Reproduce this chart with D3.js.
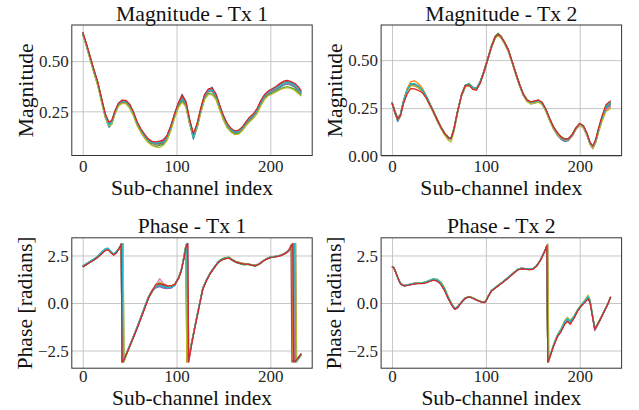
<!DOCTYPE html>
<html><head><meta charset="utf-8">
<script src="https://cdn.jsdelivr.net/npm/d3@7"></script>
<style>body{margin:0;background:#fff}svg{display:block}</style>
</head><body>
<svg id="c" width="639" height="410"></svg>
<script>
// ---- series colours (matplotlib tab10), same order as the value arrays below
const SERIES_COLORS = ["#1f77b4","#ff7f0e","#2ca02c","#d62728","#9467bd","#8c564b","#e377c2","#7f7f7f","#bcbd22","#17becf"];
const DRAW_ORDER = [0,1,2,4,5,6,7,8,9,3];
const X_TICKS = [0,100,200];
const MAG1_TICKS = [0.25,0.50];
const MAG2_TICKS = [0.00,0.25,0.50];
const PHASE_TICKS = [-2.5,0.0,2.5];
const TITLES = ["Magnitude - Tx 1","Magnitude - Tx 2","Phase - Tx 1","Phase - Tx 2"];
const YLABELS = ["Magnitude","Magnitude","Phase [radians]","Phase [radians]"];
const XLABEL = "Sub-channel index";

// ---- Magnitude Tx 1
const MAG1_X = [0,4,8,12,16,20,24,28,31,34,38,42,46,50,54,58,62,66,70,74,78,82,86,90,94,98,102,106,110,114,118,122,126,130,134,138,142,146,150,154,158,162,166,170,174,178,182,186,190,194,198,202,206,210,214,218,222,226,230,233];
const MAG1_Y = [
[.638,.577,.510,.447,.383,.306,.222,.170,.188,.236,.280,.298,.300,.272,.236,.186,.150,.122,.100,.090,.085,.094,.090,.118,.165,.226,.280,.305,.282,.190,.112,.172,.256,.322,.356,.370,.322,.264,.214,.176,.152,.140,.142,.160,.186,.207,.225,.250,.290,.320,.338,.348,.358,.368,.380,.386,.382,.370,.352,.335],
[.642,.583,.518,.452,.393,.312,.234,.190,.199,.243,.286,.303,.296,.281,.243,.193,.160,.131,.110,.092,.082,.098,.110,.128,.175,.236,.288,.321,.294,.205,.133,.184,.263,.327,.355,.356,.329,.272,.224,.184,.160,.149,.152,.167,.193,.215,.232,.258,.298,.328,.345,.356,.366,.378,.388,.394,.390,.382,.362,.345],
[.633,.572,.508,.442,.380,.300,.222,.180,.190,.234,.278,.294,.290,.270,.232,.182,.148,.118,.096,.082,.075,.080,.086,.110,.158,.220,.272,.300,.276,.188,.120,.170,.248,.312,.338,.336,.312,.260,.210,.170,.150,.136,.138,.154,.180,.202,.218,.242,.282,.314,.332,.340,.350,.360,.368,.372,.368,.360,.342,.328],
[.645,.587,.522,.458,.398,.318,.238,.195,.205,.248,.290,.306,.304,.286,.248,.198,.162,.135,.112,.100,.098,.102,.105,.132,.180,.240,.293,.326,.300,.210,.138,.190,.270,.335,.362,.365,.338,.282,.230,.190,.166,.153,.156,.172,.198,.222,.238,.265,.305,.335,.352,.362,.374,.388,.400,.404,.398,.390,.372,.352],
[.640,.581,.514,.450,.391,.309,.231,.188,.197,.240,.283,.299,.298,.277,.238,.189,.156,.126,.106,.091,.086,.094,.100,.120,.172,.230,.286,.316,.288,.198,.126,.178,.258,.326,.350,.350,.326,.268,.222,.180,.156,.146,.150,.162,.190,.210,.230,.254,.294,.326,.340,.352,.360,.374,.384,.388,.384,.378,.356,.338],
[.643,.584,.519,.455,.395,.315,.236,.193,.203,.245,.288,.305,.302,.284,.246,.195,.160,.134,.110,.098,.092,.088,.100,.128,.176,.238,.292,.335,.298,.206,.136,.188,.266,.332,.358,.360,.334,.278,.226,.186,.162,.150,.152,.168,.195,.218,.234,.262,.302,.332,.350,.360,.370,.384,.395,.398,.393,.384,.365,.348],
[.641,.582,.516,.451,.392,.311,.232,.192,.200,.242,.284,.301,.299,.280,.242,.191,.158,.130,.112,.096,.094,.100,.112,.126,.172,.234,.286,.320,.291,.202,.130,.182,.262,.326,.353,.354,.327,.272,.222,.182,.160,.148,.150,.165,.192,.214,.230,.256,.296,.326,.344,.354,.364,.376,.386,.391,.388,.380,.360,.342],
[.637,.578,.512,.447,.387,.307,.228,.184,.193,.238,.281,.298,.295,.276,.237,.188,.152,.126,.103,.090,.090,.086,.092,.118,.168,.228,.282,.314,.286,.196,.126,.178,.256,.322,.348,.348,.322,.266,.216,.178,.154,.142,.146,.160,.188,.208,.226,.252,.290,.322,.338,.348,.358,.370,.380,.386,.382,.372,.354,.336],
[.636,.574,.505,.440,.378,.298,.218,.176,.186,.230,.274,.290,.288,.266,.228,.178,.144,.116,.094,.080,.072,.070,.080,.106,.154,.216,.268,.296,.272,.184,.124,.168,.246,.310,.334,.332,.310,.256,.206,.168,.146,.134,.136,.152,.178,.198,.216,.240,.278,.310,.328,.336,.346,.356,.364,.368,.364,.354,.338,.325],
[.642,.583,.518,.453,.394,.313,.234,.182,.198,.244,.287,.303,.300,.282,.244,.192,.158,.130,.108,.096,.092,.096,.098,.126,.174,.236,.290,.312,.294,.200,.122,.184,.262,.330,.356,.358,.330,.276,.226,.184,.160,.148,.150,.166,.194,.216,.232,.258,.298,.330,.346,.356,.366,.378,.389,.393,.390,.382,.362,.344]
];

// ---- Magnitude Tx 2
const MAG2_X = [0,3,6,9,12,16,20,24,28,32,36,40,44,48,52,56,60,63,66,70,74,78,82,86,90,94,98,102,106,110,113,116,120,124,128,132,136,140,144,148,152,156,160,164,168,172,176,180,184,188,192,196,200,204,208,211,214,217,220,224,228,233];
const MAG2_Y = [
[.275,.226,.180,.208,.276,.338,.378,.372,.362,.340,.310,.268,.228,.186,.146,.112,.090,.088,.134,.230,.312,.360,.368,.352,.346,.382,.436,.500,.566,.616,.628,.618,.586,.546,.486,.424,.365,.315,.284,.272,.276,.282,.270,.234,.186,.142,.110,.088,.076,.080,.104,.140,.164,.150,.106,.062,.040,.072,.130,.196,.252,.274],
[.282,.236,.198,.220,.286,.350,.388,.392,.378,.356,.320,.278,.236,.194,.154,.122,.098,.096,.146,.240,.320,.370,.378,.360,.354,.390,.446,.510,.576,.626,.636,.626,.594,.556,.495,.434,.375,.324,.294,.282,.286,.292,.278,.244,.196,.154,.124,.102,.090,.092,.114,.148,.170,.156,.114,.070,.050,.074,.128,.188,.236,.255],
[.280,.234,.196,.218,.284,.344,.376,.374,.364,.346,.316,.276,.234,.194,.154,.120,.098,.094,.144,.238,.318,.368,.376,.358,.352,.388,.444,.508,.574,.624,.640,.626,.592,.552,.492,.430,.372,.322,.292,.280,.284,.290,.276,.242,.194,.152,.122,.100,.088,.090,.112,.148,.170,.158,.114,.070,.050,.082,.140,.206,.260,.280],
[.276,.230,.192,.210,.270,.322,.352,.350,.342,.332,.306,.270,.232,.190,.150,.118,.096,.092,.140,.236,.316,.366,.370,.348,.344,.380,.438,.504,.570,.622,.634,.624,.592,.552,.492,.430,.372,.322,.292,.282,.288,.292,.280,.244,.196,.152,.122,.100,.088,.090,.112,.146,.170,.158,.116,.072,.052,.086,.146,.212,.268,.288],
[.278,.232,.194,.214,.280,.340,.370,.368,.360,.342,.312,.272,.232,.190,.150,.118,.094,.092,.138,.234,.314,.364,.372,.356,.350,.386,.440,.506,.570,.620,.632,.622,.590,.550,.490,.428,.370,.320,.290,.278,.282,.288,.274,.238,.190,.148,.118,.096,.084,.086,.106,.140,.164,.150,.108,.064,.042,.074,.132,.196,.246,.268],
[.280,.234,.198,.216,.282,.342,.374,.372,.362,.344,.314,.274,.234,.192,.152,.120,.096,.094,.142,.236,.318,.366,.374,.356,.352,.386,.442,.506,.572,.622,.634,.624,.592,.552,.492,.430,.372,.322,.292,.280,.284,.290,.276,.242,.194,.152,.122,.100,.088,.090,.112,.146,.168,.156,.112,.068,.048,.078,.136,.202,.252,.276],
[.274,.228,.190,.212,.276,.336,.368,.366,.356,.338,.308,.268,.228,.186,.146,.114,.092,.088,.136,.232,.312,.362,.370,.352,.346,.382,.436,.502,.566,.616,.628,.618,.588,.546,.486,.424,.366,.316,.286,.274,.278,.284,.272,.236,.188,.146,.116,.094,.082,.084,.104,.138,.160,.146,.104,.060,.038,.070,.126,.190,.240,.262],
[.277,.231,.194,.214,.280,.340,.372,.370,.358,.340,.310,.270,.230,.188,.148,.116,.094,.090,.138,.234,.314,.364,.372,.354,.348,.384,.438,.504,.568,.618,.630,.620,.588,.548,.488,.426,.368,.318,.288,.276,.280,.286,.272,.238,.190,.148,.118,.096,.084,.086,.108,.144,.166,.152,.110,.066,.046,.076,.132,.196,.246,.268],
[.272,.226,.188,.210,.276,.334,.366,.366,.356,.336,.306,.266,.226,.184,.144,.110,.082,.074,.126,.228,.310,.360,.368,.350,.344,.380,.434,.500,.564,.614,.626,.616,.584,.544,.484,.422,.364,.314,.284,.272,.276,.282,.268,.232,.184,.142,.114,.094,.084,.086,.106,.140,.162,.148,.106,.062,.040,.068,.122,.184,.232,.248],
[.279,.226,.192,.216,.282,.344,.378,.378,.366,.346,.316,.276,.236,.192,.152,.120,.097,.094,.142,.238,.318,.368,.376,.358,.352,.388,.442,.508,.572,.622,.634,.624,.592,.552,.492,.430,.372,.322,.292,.280,.284,.290,.276,.242,.194,.152,.122,.100,.086,.088,.110,.146,.168,.156,.114,.070,.050,.080,.138,.204,.256,.278]
];

// ---- Phase Tx 1
const PH1_X = [0,4,8,12,16,20,24,27,30,33,36,38,40,41,42,43,44,46,50,54,58,62,66,70,74,78,82,86,90,94,98,102,105,108,110,111,112,113,114,116,120,124,128,132,136,140,144,148,152,156,160,164,168,172,176,180,184,188,192,196,200,204,208,212,216,219,221,222,223,224,225,226,227,228,230,233];
const PH1_Y = [
[1.93,2.06,2.18,2.30,2.46,2.66,2.84,2.87,2.70,2.57,2.70,2.84,2.98,3.10,-3.10,-3.06,-2.98,-2.74,-2.26,-1.77,-1.28,-0.74,-0.22,0.30,0.66,0.86,0.90,0.84,0.80,0.78,0.92,1.30,1.72,2.42,2.98,3.12,-3.08,-2.90,-2.68,-2.15,-1.12,-0.18,0.78,1.22,1.58,1.88,2.14,2.30,2.36,2.40,2.24,2.14,2.08,2.02,2.04,1.98,1.95,2.06,2.21,2.34,2.41,2.44,2.47,2.53,2.63,2.73,2.84,2.92,3.00,3.07,3.12,-3.10,-3.06,-3.02,-2.90,-2.70],
[1.92,2.04,2.16,2.28,2.43,2.62,2.80,2.84,2.68,2.54,2.68,2.80,2.92,3.02,3.12,-3.08,-3.00,-2.76,-2.28,-1.80,-1.32,-0.80,-0.26,0.26,0.60,0.92,1.02,0.90,0.86,0.88,0.96,1.30,1.70,2.50,3.05,-3.10,-3.02,-2.86,-2.62,-2.10,-1.14,-0.20,0.74,1.20,1.56,1.85,2.12,2.28,2.35,2.40,2.26,2.16,2.12,2.06,2.06,2.00,1.96,2.04,2.20,2.32,2.40,2.43,2.46,2.52,2.62,2.74,2.90,2.98,3.10,-3.10,-3.06,-3.03,-2.99,-2.95,-2.86,-2.66],
[1.90,2.02,2.14,2.26,2.41,2.59,2.77,2.82,2.66,2.53,2.66,2.79,2.88,2.96,3.05,3.12,-3.10,-2.80,-2.30,-1.83,-1.33,-0.82,-0.28,0.25,0.58,0.95,1.08,0.95,0.90,0.86,0.94,1.28,1.68,2.42,2.98,3.12,-3.08,-2.90,-2.70,-2.15,-1.18,-0.22,0.72,1.18,1.55,1.83,2.10,2.26,2.33,2.36,2.22,2.12,2.06,2.00,2.03,1.98,1.94,2.03,2.18,2.30,2.38,2.42,2.45,2.50,2.60,2.70,2.82,2.90,2.97,3.04,3.08,3.12,-3.10,-3.05,-2.92,-2.72],
[1.90,2.02,2.14,2.26,2.40,2.58,2.76,2.80,2.64,2.52,2.64,2.80,2.98,3.10,-3.10,-3.06,-2.98,-2.76,-2.30,-1.82,-1.34,-0.82,-0.30,0.24,0.64,0.98,1.00,0.98,0.90,0.90,0.98,1.28,1.68,2.35,2.90,3.05,3.13,-3.10,-2.80,-2.22,-1.20,-0.24,0.72,1.18,1.55,1.84,2.10,2.26,2.33,2.36,2.24,2.14,2.09,2.04,2.04,1.99,1.97,2.04,2.18,2.31,2.39,2.42,2.45,2.51,2.61,2.71,2.84,2.95,3.04,3.12,-3.10,-3.06,-3.02,-2.98,-2.88,-2.68],
[1.94,2.06,2.18,2.30,2.45,2.64,2.82,2.86,2.70,2.57,2.70,2.83,2.92,3.02,3.12,-3.08,-3.00,-2.72,-2.24,-1.76,-1.26,-0.74,-0.20,0.32,0.64,0.80,0.86,0.78,0.76,0.80,0.94,1.33,1.74,2.35,2.90,3.05,3.13,-3.10,-2.80,-2.20,-1.12,-0.16,0.78,1.22,1.60,1.87,2.14,2.30,2.37,2.38,2.26,2.16,2.10,2.06,2.05,2.01,1.98,2.06,2.21,2.33,2.41,2.44,2.47,2.53,2.63,2.72,2.84,2.88,2.95,3.00,3.05,3.09,3.13,-3.10,-2.95,-2.72],
[1.92,2.05,2.17,2.29,2.44,2.63,2.81,2.85,2.69,2.56,2.69,2.83,2.98,3.10,-3.10,-3.06,-2.98,-2.74,-2.26,-1.78,-1.29,-0.77,-0.24,0.28,0.62,0.90,0.96,0.92,0.84,0.84,0.95,1.31,1.71,2.50,3.05,-3.10,-3.02,-2.86,-2.62,-2.10,-1.14,-0.19,0.76,1.21,1.57,1.86,2.13,2.29,2.36,2.39,2.25,2.15,2.11,2.05,2.05,2.00,1.97,2.05,2.20,2.32,2.40,2.43,2.46,2.52,2.64,2.76,2.92,3.06,-3.10,-3.07,-3.04,-3.00,-2.97,-2.93,-2.85,-2.66],
[1.94,2.07,2.19,2.31,2.46,2.65,2.83,2.86,2.71,2.58,2.71,2.84,2.92,3.02,3.12,-3.08,-3.00,-2.72,-2.24,-1.75,-1.25,-0.72,-0.20,0.33,0.68,0.94,1.28,1.02,0.92,0.86,0.98,1.33,1.74,2.42,2.98,3.12,-3.08,-2.90,-2.68,-2.14,-1.10,-0.16,0.80,1.24,1.60,1.88,2.15,2.31,2.38,2.41,2.27,2.17,2.11,2.07,2.06,2.02,1.99,2.07,2.22,2.34,2.42,2.45,2.48,2.54,2.64,2.74,2.86,2.93,3.01,3.07,3.12,-3.10,-3.06,-3.02,-2.90,-2.70],
[1.91,2.03,2.15,2.27,2.42,2.61,2.79,2.83,2.67,2.54,2.67,2.81,2.98,3.10,-3.10,-3.06,-2.98,-2.76,-2.29,-1.81,-1.31,-0.79,-0.26,0.27,0.61,0.84,0.94,0.88,0.82,0.83,0.94,1.29,1.69,2.42,2.98,3.12,-3.08,-2.90,-2.70,-2.16,-1.16,-0.21,0.74,1.19,1.56,1.84,2.11,2.27,2.34,2.37,2.24,2.14,2.09,2.04,2.04,1.99,1.96,2.04,2.19,2.31,2.39,2.42,2.45,2.51,2.61,2.71,2.84,2.95,3.04,3.12,-3.10,-3.06,-3.02,-2.98,-2.88,-2.68],
[1.93,2.05,2.17,2.29,2.44,2.64,2.82,2.85,2.69,2.56,2.69,2.80,2.88,2.96,3.05,3.12,-3.10,-2.78,-2.27,-1.79,-1.29,-0.76,-0.23,0.30,0.66,0.92,1.10,0.98,0.92,0.90,0.97,1.32,1.72,2.50,3.05,-3.10,-3.02,-2.86,-2.62,-2.10,-1.13,-0.18,0.77,1.21,1.58,1.87,2.14,2.32,2.40,2.42,2.28,2.17,2.12,2.08,2.07,2.02,1.99,2.06,2.21,2.33,2.41,2.44,2.47,2.53,2.62,2.72,2.82,2.88,2.95,3.00,3.05,3.09,3.13,-3.10,-2.95,-2.74],
[1.95,2.08,2.20,2.32,2.47,2.66,2.86,2.89,2.72,2.58,2.71,2.85,2.95,3.05,3.12,-3.08,-3.00,-2.72,-2.25,-1.77,-1.27,-0.75,-0.21,0.31,0.64,0.88,0.92,0.86,0.82,0.82,0.93,1.31,1.72,2.42,2.98,3.12,-3.08,-2.90,-2.68,-2.14,-1.12,-0.17,0.78,1.22,1.59,1.87,2.14,2.30,2.37,2.39,2.25,2.15,2.10,2.05,2.05,2.00,1.97,2.05,2.20,2.33,2.41,2.44,2.47,2.53,2.63,2.72,2.82,2.90,2.97,3.04,3.08,3.12,-3.10,-3.05,-2.92,-2.72]
];

// ---- Phase Tx 2
const PH2_X = [0,2,4,6,8,10,13,16,20,24,28,32,36,40,44,48,52,56,60,64,67,70,74,78,82,86,90,94,98,100,103,106,110,114,118,122,126,130,134,138,142,146,150,154,158,162,164,165,166,167,168,172,176,180,184,187,190,194,198,202,206,209,211,213,216,218,222,226,230,233];
const PH2_Y = [
[1.92,1.84,1.61,1.35,1.10,0.96,0.90,0.93,0.97,1.01,1.05,1.03,1.08,1.15,1.24,1.18,1.00,0.68,0.24,-0.14,-0.34,-0.24,0.04,0.24,0.33,0.27,0.16,0.08,0.03,0.09,0.39,0.64,0.79,0.94,1.09,1.25,1.42,1.60,1.76,1.82,1.80,1.78,1.79,1.95,2.25,2.65,2.88,3.02,-3.10,-2.98,-2.84,-2.26,-1.76,-1.46,-1.06,-0.92,-1.06,-0.76,-0.38,-0.12,0.10,0.28,0.08,-0.50,-1.36,-1.22,-0.85,-0.45,-0.05,0.32],
[1.93,1.86,1.63,1.37,1.13,0.99,0.93,0.96,1.00,1.04,1.05,1.06,1.10,1.18,1.26,1.22,1.06,0.74,0.28,-0.10,-0.30,-0.20,0.06,0.26,0.34,0.27,0.17,0.09,0.05,0.11,0.41,0.66,0.81,0.96,1.11,1.27,1.43,1.61,1.77,1.83,1.81,1.76,1.77,1.94,2.24,2.64,2.88,3.03,-3.10,-2.97,-2.82,-2.24,-1.73,-1.42,-1.00,-0.84,-0.98,-0.72,-0.36,-0.10,0.14,0.32,0.12,-0.46,-1.33,-1.20,-0.84,-0.44,-0.04,0.33],
[1.92,1.85,1.62,1.36,1.12,0.98,0.92,0.94,0.98,1.03,1.04,1.05,1.09,1.16,1.23,1.20,1.04,0.72,0.26,-0.11,-0.31,-0.21,0.05,0.25,0.34,0.26,0.16,0.08,0.04,0.10,0.40,0.65,0.80,0.95,1.10,1.26,1.42,1.60,1.76,1.82,1.80,1.78,1.79,1.95,2.25,2.65,2.89,3.03,-3.10,-2.97,-2.83,-2.25,-1.74,-1.44,-1.02,-0.88,-1.02,-0.74,-0.37,-0.11,0.12,0.30,0.10,-0.48,-1.34,-1.21,-0.85,-0.45,-0.05,0.32],
[1.91,1.84,1.60,1.34,1.10,0.96,0.90,0.92,0.96,1.00,1.02,1.02,1.06,1.13,1.20,1.15,0.98,0.65,0.22,-0.14,-0.34,-0.24,0.03,0.24,0.32,0.25,0.15,0.07,0.02,0.08,0.38,0.63,0.78,0.93,1.08,1.24,1.40,1.58,1.74,1.80,1.78,1.76,1.77,1.93,2.23,2.63,2.87,3.02,-3.10,-2.99,-2.86,-2.30,-1.80,-1.52,-1.12,-0.98,-1.12,-0.80,-0.40,-0.14,0.06,0.22,0.02,-0.54,-1.38,-1.24,-0.86,-0.46,-0.06,0.31],
[1.92,1.85,1.61,1.35,1.11,0.97,0.91,0.93,0.97,1.01,1.03,1.03,1.07,1.14,1.21,1.16,0.99,0.67,0.23,-0.13,-0.33,-0.23,0.04,0.24,0.33,0.26,0.16,0.08,0.03,0.09,0.39,0.64,0.79,0.94,1.09,1.25,1.41,1.59,1.75,1.81,1.79,1.77,1.78,1.94,2.24,2.62,2.84,2.98,3.10,-3.10,-2.92,-2.28,-1.78,-1.48,-1.08,-0.94,-1.08,-0.78,-0.39,-0.13,0.08,0.25,0.04,-0.54,-1.46,-1.28,-0.88,-0.47,-0.06,0.31],
[1.92,1.85,1.61,1.35,1.11,0.97,0.91,0.94,0.98,1.02,1.04,1.04,1.08,1.15,1.22,1.17,1.01,0.69,0.24,-0.12,-0.32,-0.22,0.05,0.25,0.33,0.26,0.16,0.08,0.04,0.10,0.40,0.65,0.80,0.95,1.10,1.26,1.42,1.60,1.76,1.82,1.80,1.78,1.79,1.95,2.25,2.65,2.88,3.02,-3.10,-2.98,-2.84,-2.27,-1.77,-1.47,-1.07,-0.93,-1.07,-0.76,-0.38,-0.12,0.09,0.27,0.06,-0.51,-1.36,-1.22,-0.85,-0.45,-0.05,0.32],
[1.93,1.86,1.62,1.36,1.12,0.98,0.92,0.95,1.01,1.06,1.06,1.05,1.09,1.16,1.23,1.19,1.03,0.71,0.26,-0.11,-0.31,-0.21,0.05,0.25,0.34,0.27,0.17,0.09,0.05,0.11,0.41,0.66,0.81,0.96,1.11,1.27,1.43,1.61,1.77,1.83,1.81,1.79,1.80,1.96,2.26,2.66,2.89,3.03,-3.10,-2.97,-2.83,-2.25,-1.75,-1.44,-1.03,-0.89,-1.03,-0.74,-0.37,-0.11,0.12,0.30,0.10,-0.49,-1.40,-1.24,-0.85,-0.45,-0.05,0.32],
[1.92,1.85,1.62,1.36,1.12,0.98,0.92,0.94,0.98,1.02,1.04,1.04,1.08,1.15,1.22,1.18,1.02,0.70,0.25,-0.12,-0.32,-0.22,0.05,0.25,0.33,0.26,0.16,0.08,0.04,0.10,0.40,0.65,0.80,0.95,1.10,1.26,1.42,1.60,1.76,1.82,1.80,1.78,1.79,1.95,2.25,2.65,2.88,3.02,-3.10,-2.98,-2.83,-2.26,-1.76,-1.45,-1.05,-0.90,-1.05,-0.75,-0.38,-0.12,0.10,0.27,0.06,-0.50,-1.35,-1.22,-0.85,-0.45,-0.05,0.32],
[1.91,1.84,1.62,1.37,1.14,1.00,0.94,0.96,1.00,1.04,1.06,1.07,1.12,1.20,1.27,1.26,1.12,0.82,0.34,-0.06,-0.28,-0.18,0.07,0.27,0.35,0.28,0.18,0.10,0.06,0.12,0.42,0.67,0.82,0.97,1.12,1.28,1.44,1.62,1.78,1.84,1.80,1.76,1.77,1.93,2.22,2.60,2.82,2.96,3.10,-3.10,-2.90,-2.20,-1.68,-1.36,-0.92,-0.74,-0.90,-0.66,-0.32,-0.06,0.20,0.42,0.18,-0.40,-1.28,-1.16,-0.82,-0.43,-0.04,0.33],
[1.93,1.86,1.63,1.37,1.13,0.99,0.93,0.95,0.99,1.03,1.05,1.06,1.11,1.19,1.27,1.24,1.08,0.76,0.30,-0.08,-0.29,-0.19,0.06,0.26,0.34,0.27,0.17,0.09,0.05,0.11,0.41,0.66,0.81,0.96,1.11,1.27,1.43,1.61,1.77,1.83,1.81,1.79,1.80,1.96,2.26,2.66,2.89,3.03,-3.10,-2.97,-2.82,-2.22,-1.72,-1.40,-0.98,-0.82,-0.96,-0.70,-0.35,-0.08,0.15,0.34,0.14,-0.44,-1.32,-1.19,-0.84,-0.44,-0.04,0.33]
];

// ---- layout
const FONT = "'Liberation Serif','Times New Roman',serif";
const svg = d3.select("#c");
svg.append("rect").attr("width",639).attr("height",410).attr("fill","#fff");

const panels = [
  {x:MAG1_X, ys:MAG1_Y, yDom:[0.03,0.68], yTicks:MAG1_TICKS, fmt:d3.format(".2f"), box:[71.8,312.2,25,155.5], ylabX:33, tickY:16, xlabY:194.8, xlabFs:21.7},
  {x:MAG2_X, ys:MAG2_Y, yDom:[0.003,0.683], yTicks:MAG2_TICKS, fmt:d3.format(".2f"), box:[381.1,621.6,25,155.5], ylabX:342, tickY:16, xlabY:194.8, xlabFs:21.7},
  {x:PH1_X, ys:PH1_Y, yDom:[-3.43,3.43], yTicks:PHASE_TICKS, fmt:d3.format(".1f"), box:[71.8,312.2,237.8,368.2], ylabX:31.5, tickY:14, xlabY:405.2, xlabFs:21.4},
  {x:PH2_X, ys:PH2_Y, yDom:[-3.43,3.43], yTicks:PHASE_TICKS, fmt:d3.format(".1f"), box:[381.1,621.6,237.8,368.2], ylabX:340.5, tickY:14, xlabY:405.2, xlabFs:21.4}
];

panels.forEach((p,pi)=>{
  const [x0,x1,y0,y1] = p.box;
  const xs = d3.scaleLinear().domain([-11.65,244.65]).range([x0,x1]);
  const ys = d3.scaleLinear().domain(p.yDom).range([y1,y0]);
  const g = svg.append("g").attr("font-family",FONT);
  const clipId = "clip"+pi;
  svg.append("clipPath").attr("id",clipId).append("rect")
    .attr("x",x0).attr("y",y0).attr("width",x1-x0).attr("height",y1-y0);

  // grid via axes
  const gx = g.append("g").attr("transform",`translate(0,${y1})`)
    .call(d3.axisBottom(xs).tickValues(X_TICKS).tickSize(-(y1-y0)).tickFormat(""));
  const gy = g.append("g").attr("transform",`translate(${x0},0)`)
    .call(d3.axisLeft(ys).tickValues(p.yTicks).tickSize(-(x1-x0)).tickFormat(""));
  [gx,gy].forEach(a=>{ a.select(".domain").remove(); a.selectAll("line").attr("stroke","#c0c0c0").attr("stroke-width",0.9); });

  // tick labels via axes
  const lx = g.append("g").attr("transform",`translate(0,${y1})`)
    .call(d3.axisBottom(xs).tickValues(X_TICKS).tickSize(0).tickPadding(0));
  lx.attr("font-family",FONT).attr("font-size",17);
  lx.select(".domain").remove();
  lx.selectAll("text").attr("dy",null).attr("y",p.tickY).attr("font-family",FONT).attr("font-size",17).attr("fill","#262626");
  const ly = g.append("g").attr("transform",`translate(${x0},0)`)
    .call(d3.axisLeft(ys).tickValues(p.yTicks).tickSize(0).tickFormat(p.fmt));
  ly.attr("font-family",FONT).attr("font-size",17);
  ly.select(".domain").remove();
  ly.selectAll("text").attr("x",-3).attr("dy","0.34em").attr("font-family",FONT).attr("font-size",17).attr("fill","#262626");

  // lines
  const line = d3.line().x((d,i)=>xs(p.x[i])).y(d=>ys(d));
  const lg = g.append("g").attr("clip-path",`url(#${clipId})`);
  DRAW_ORDER.forEach(si=>{
    const vals = p.ys[si].slice(0, p.x.length);
    lg.append("path").attr("d",line(vals)).attr("fill","none")
      .attr("stroke",SERIES_COLORS[si]).attr("stroke-width",1.25)
      .attr("stroke-linejoin","round");
  });

  // spines
  g.append("rect").attr("x",x0).attr("y",y0).attr("width",x1-x0).attr("height",y1-y0)
    .attr("fill","none").attr("stroke","#333").attr("stroke-width",1);

  // title, labels
  const cx = (x0+x1)/2;
  g.append("text").attr("x",cx).attr("y",y0-4.5).attr("text-anchor","middle")
    .attr("font-size",21.7).attr("fill","#111").text(TITLES[pi]);
  g.append("text").attr("x",cx).attr("y",p.xlabY).attr("text-anchor","middle")
    .attr("font-size",p.xlabFs).attr("fill","#111").text(XLABEL);
  g.append("text").attr("transform",`translate(${p.ylabX},${(y0+y1)/2}) rotate(-90)`)
    .attr("text-anchor","middle").attr("font-size",21.7).attr("fill","#111").text(YLABELS[pi]);
});
</script>
</body></html>
